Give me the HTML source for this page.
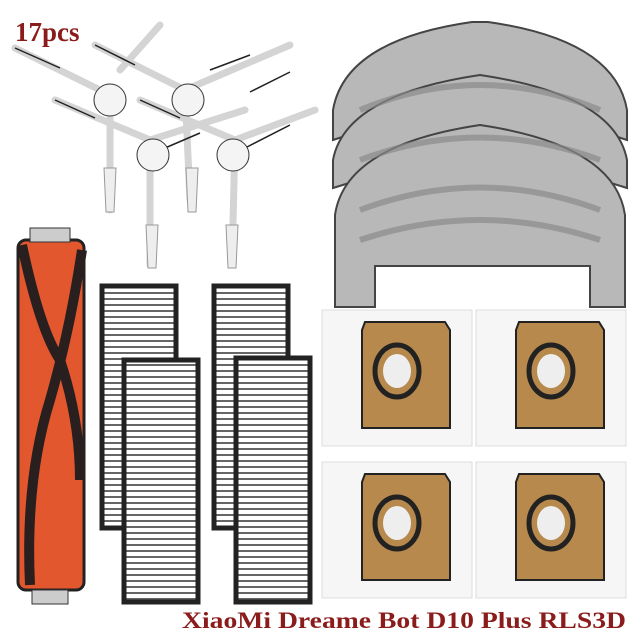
<!DOCTYPE html>
<html><head><style>
html,body{margin:0;padding:0;background:#fff;}
svg{display:block}
text{font-family:"Liberation Serif",serif;font-weight:bold;fill:#8b1c1c}
</style></head><body>
<svg width="640" height="640" viewBox="0 0 640 640" xmlns="http://www.w3.org/2000/svg">
<rect width="640" height="640" fill="#fff"/>
<text x="15" y="41" font-size="27">17pcs</text>

<!-- side brushes -->
<g stroke="#d4d4d4" stroke-width="7" stroke-linecap="round" fill="none">
 <path d="M15,48 L110,95 M120,70 L160,25 M110,95 L110,210"/>
 <path d="M95,45 L185,90 M185,90 L290,45 M185,90 L190,200"/>
 <path d="M55,100 L150,140 M150,140 L245,110 M150,140 L150,265"/>
 <path d="M140,100 L235,140 M235,140 L315,110 M235,140 L232,265"/>
</g>
<g stroke="#222" stroke-width="1.5" fill="none">
 <path d="M15,48 L60,68 M95,45 L135,65 M55,100 L95,118 M140,100 L180,118 M210,70 L250,55 M250,92 L290,72 M165,148 L200,133 M245,148 L290,125"/>
</g>
<g fill="#f4f4f4" stroke="#333" stroke-width="1">
 <circle cx="110" cy="100" r="16"/><circle cx="188" cy="100" r="16"/>
 <circle cx="153" cy="155" r="16"/><circle cx="233" cy="155" r="16"/>
</g>
<g fill="#eee" stroke="#999" stroke-width="1">
 <path d="M104,168 L116,168 L114,212 L106,212Z"/><path d="M186,168 L198,168 L196,212 L188,212Z"/>
 <path d="M146,225 L158,225 L156,268 L148,268Z"/><path d="M226,225 L238,225 L236,268 L228,268Z"/>
</g>

<!-- mops -->
<g fill="#b8b8b8" stroke="#444" stroke-width="2">
 <path d="M333,140 L333,110 Q345,40 472,22 L488,22 Q615,40 627,110 L627,140 Q480,90 333,140Z"/>
 <path d="M333,188 L333,160 Q345,95 480,75 Q615,95 627,160 L627,188 Q480,140 333,188Z"/>
 <path d="M335,307 L335,215 Q345,145 480,125 Q615,145 625,215 L625,307 L590,307 L590,266 L375,266 L375,307Z"/>
</g>
<g stroke="#8a8a8a" stroke-width="6" fill="none" opacity="0.7">
 <path d="M360,110 Q480,60 600,110 M360,160 Q480,115 600,160 M360,210 Q480,165 600,210 M360,240 Q480,200 600,240"/>
</g>

<!-- roller -->
<rect x="18" y="240" width="66" height="350" rx="8" fill="#e3572f" stroke="#222" stroke-width="3"/>
<g stroke="#2a1f1f" stroke-width="10" fill="none">
 <path d="M22,245 Q40,330 60,360 Q80,420 80,480 M82,250 Q70,330 50,400 Q25,480 30,585"/>
</g>
<rect x="30" y="228" width="40" height="14" fill="#ccc" stroke="#333"/>
<rect x="32" y="590" width="36" height="14" fill="#ccc" stroke="#333"/>

<!-- filters -->
<defs>
<pattern id="pl" width="10" height="6" patternUnits="userSpaceOnUse">
<rect width="10" height="6" fill="#fff"/><rect y="4" width="10" height="2" fill="#666"/>
</pattern>
</defs>
<g stroke="#222" stroke-width="5">
 <rect x="102" y="286" width="74" height="242" fill="url(#pl)"/>
 <rect x="214" y="286" width="74" height="242" fill="url(#pl)"/>
 <rect x="124" y="360" width="74" height="242" fill="url(#pl)"/>
 <rect x="236" y="358" width="74" height="244" fill="url(#pl)"/>
</g>

<!-- bags -->
<g>
 <g transform="translate(0,0)">
  <rect x="322" y="310" width="150" height="136" fill="#f6f6f6" stroke="#ddd"/>
  <path d="M365,322 L445,322 L450,330 L450,428 L362,428 L362,330Z" fill="#b8894c" stroke="#222" stroke-width="2"/>
  <ellipse cx="397" cy="371" rx="22" ry="26" fill="#b8894c" stroke="#222" stroke-width="5"/>
  <ellipse cx="397" cy="371" rx="14" ry="17" fill="#eee"/>
 </g>
 <g transform="translate(154,0)">
  <rect x="322" y="310" width="150" height="136" fill="#f6f6f6" stroke="#ddd"/>
  <path d="M365,322 L445,322 L450,330 L450,428 L362,428 L362,330Z" fill="#b8894c" stroke="#222" stroke-width="2"/>
  <ellipse cx="397" cy="371" rx="22" ry="26" fill="#b8894c" stroke="#222" stroke-width="5"/>
  <ellipse cx="397" cy="371" rx="14" ry="17" fill="#eee"/>
 </g>
 <g transform="translate(0,152)">
  <rect x="322" y="310" width="150" height="136" fill="#f6f6f6" stroke="#ddd"/>
  <path d="M365,322 L445,322 L450,330 L450,428 L362,428 L362,330Z" fill="#b8894c" stroke="#222" stroke-width="2"/>
  <ellipse cx="397" cy="371" rx="22" ry="26" fill="#b8894c" stroke="#222" stroke-width="5"/>
  <ellipse cx="397" cy="371" rx="14" ry="17" fill="#eee"/>
 </g>
 <g transform="translate(154,152)">
  <rect x="322" y="310" width="150" height="136" fill="#f6f6f6" stroke="#ddd"/>
  <path d="M365,322 L445,322 L450,330 L450,428 L362,428 L362,330Z" fill="#b8894c" stroke="#222" stroke-width="2"/>
  <ellipse cx="397" cy="371" rx="22" ry="26" fill="#b8894c" stroke="#222" stroke-width="5"/>
  <ellipse cx="397" cy="371" rx="14" ry="17" fill="#eee"/>
 </g>
</g>

<text x="182" y="628" font-size="23" textLength="444" lengthAdjust="spacingAndGlyphs">XiaoMi Dreame Bot D10 Plus RLS3D</text>
</svg>
</body></html>
